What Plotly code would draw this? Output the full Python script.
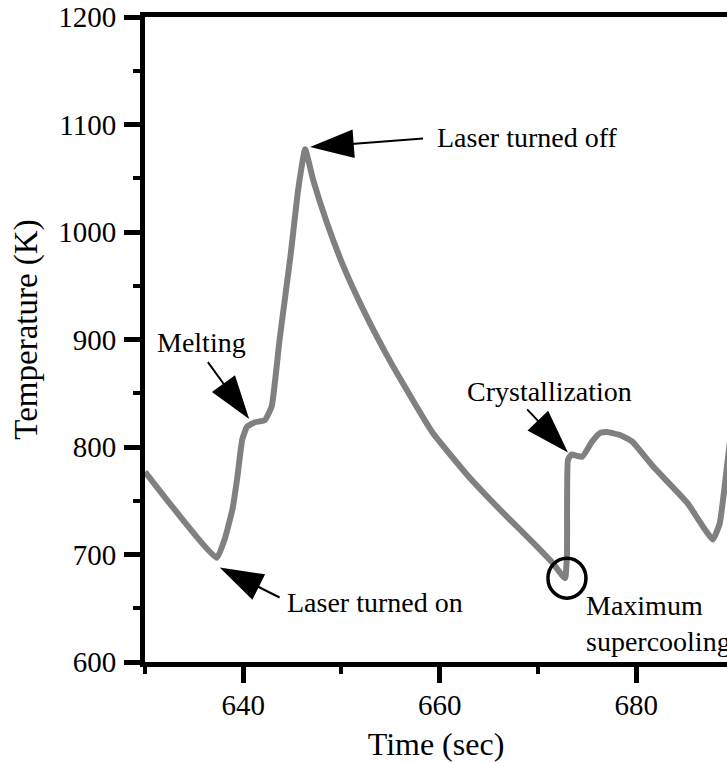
import plotly.graph_objects as go

# Measured temperature trace during a laser heating / cooling cycle
time_s = [630.0, 637.3, 638.1, 638.9, 639.4, 639.9, 640.4, 641.2, 642.2, 642.9,
          643.7, 644.8, 645.6, 646.3, 647.1, 648.5, 650.2, 652.2, 654.4, 656.2,
          659.3, 662.8, 666.1, 669.5, 671.5, 672.75, 672.95, 673.05, 673.4, 674.5,
          675.5, 676.3, 677.0, 678.4, 679.6, 681.7, 685.2, 687.8, 688.5, 688.8,
          689.2, 689.6]
temp_k = [777, 697, 714, 742, 772, 807, 819, 823, 825, 838,
          900, 977, 1040, 1077, 1049, 1009, 968, 928, 889, 860,
          813, 774, 742, 711, 692, 678, 700, 788, 793, 791,
          805, 813, 814, 811, 805, 782, 748, 714, 729, 748,
          779, 810]

# Event labels: text, text anchor point, arrow tail and arrow tip (data units)
events = [
    {"text": "Laser turned off", "tx": 659.5, "ty": 1088, "xanchor": "left",
     "tail": (658.3, 1087), "tip": (646.8, 1079)},
    {"text": "Melting", "tx": 635.8, "ty": 897, "xanchor": "center",
     "tail": (636.4, 879), "tip": (640.6, 826)},
    {"text": "Laser turned on", "tx": 644.25, "ty": 655, "xanchor": "left",
     "tail": (643.7, 660), "tip": (637.6, 688)},
    {"text": "Crystallization", "tx": 671.2, "ty": 852, "xanchor": "center",
     "tail": (668.9, 835), "tip": (673.05, 795)},
]
supercool_label = "Maximum<br>supercooling"
supercool_pos = (674.7, 636)
supercool_point = (672.95, 678)

x_range = [630, 689.24]
y_range = [600, 1200]

FONT = "Liberation Serif"

fig = go.Figure()

fig.add_trace(go.Scatter(
    x=time_s, y=temp_k, mode="lines",
    line=dict(color="#808080", width=6, shape="spline", smoothing=0.4),
    hoverinfo="skip", showlegend=False,
))

for ev in events:
    (x0, y0), (x1, y1) = ev["tail"], ev["tip"]
    fig.add_trace(go.Scatter(
        x=[x0, x1], y=[y0, y1], mode="lines+markers",
        line=dict(color="#000000", width=2),
        marker=dict(symbol=["circle", "arrow"], size=[0, 46],
                    angleref="previous", color="#000000", opacity=1,
                    line=dict(width=0, color="#000000")),
        cliponaxis=False, hoverinfo="skip", showlegend=False,
    ))
    fig.add_annotation(
        x=ev["tx"], y=ev["ty"], text=ev["text"], showarrow=False,
        xanchor=ev["xanchor"], yanchor="middle",
        font=dict(family=FONT, size=28, color="black"),
    )

fig.add_annotation(
    x=supercool_pos[0], y=supercool_pos[1], text=supercool_label,
    showarrow=False, xanchor="left", yanchor="middle", align="left",
    font=dict(family=FONT, size=28, color="black"),
)

# Vertical axis title
fig.add_annotation(
    xref="paper", yref="paper", x=-0.203, y=0.515,
    text="Temperature (K)", textangle=-90, showarrow=False,
    xanchor="center", yanchor="middle",
    font=dict(family=FONT, size=33, color="black"),
)

fig.add_shape(
    type="circle", xref="x", yref="y",
    xsizemode="pixel", ysizemode="pixel",
    xanchor=supercool_point[0], yanchor=supercool_point[1],
    x0=-19, x1=19, y0=-20, y1=20,
    line=dict(color="black", width=3.5),
)

fig.update_layout(
    template="none",
    width=727, height=763,
    margin=dict(l=145, r=0, t=17, b=101),
    plot_bgcolor="white", paper_bgcolor="white",
    font=dict(family=FONT, color="black", size=28),
)

fig.update_xaxes(
    range=x_range, showgrid=False, zeroline=False,
    showline=True, linecolor="black", linewidth=5, mirror=True,
    ticks="outside", tickcolor="black", ticklen=16, tickwidth=5,
    tick0=640, dtick=20,
    minor=dict(ticks="outside", dtick=10, tick0=630, ticklen=7,
               tickwidth=4, tickcolor="black"),
    tickfont=dict(family=FONT, size=29, color="black"),
    ticklabelstandoff=-3,
    title=dict(text="Time (sec)", font=dict(family=FONT, size=32, color="black"),
               standoff=14),
)

fig.update_yaxes(
    range=y_range, showgrid=False, zeroline=False,
    showline=True, linecolor="black", linewidth=5, mirror=False,
    ticks="outside", tickcolor="black", ticklen=16, tickwidth=5,
    tick0=600, dtick=100,
    minor=dict(ticks="outside", dtick=50, ticklen=7, tickwidth=4,
               tickcolor="black"),
    tickfont=dict(family=FONT, size=29, color="black"),
    ticklabelstandoff=2,
)

fig.write_html("out.html")
